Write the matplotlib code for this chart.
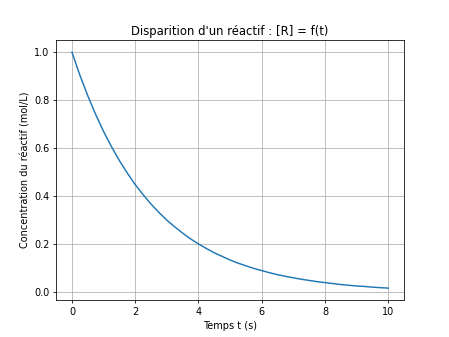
import matplotlib
matplotlib.use("Agg")
import matplotlib.pyplot as plt

temps = [0.0, 0.25, 0.5, 0.75, 1.0, 1.25, 1.5, 1.75, 2.0, 2.25, 2.5, 2.75, 3.0, 3.25,
         3.5, 3.75, 4.0, 4.25, 4.5, 4.75, 5.0, 5.25, 5.5, 5.75, 6.0, 6.25, 6.5, 6.75,
         7.0, 7.25, 7.5, 7.75, 8.0, 8.25, 8.5, 8.75, 9.0, 9.25, 9.5, 9.75, 10.0]
concentration = [1.000, 0.905, 0.819, 0.741, 0.670, 0.607, 0.549, 0.497, 0.449, 0.407,
                 0.368, 0.333, 0.301, 0.273, 0.247, 0.223, 0.202, 0.183, 0.165, 0.150,
                 0.135, 0.122, 0.111, 0.100, 0.091, 0.082, 0.074, 0.067, 0.061, 0.055,
                 0.050, 0.045, 0.041, 0.037, 0.033, 0.030, 0.027, 0.025, 0.022, 0.020,
                 0.018]

fig, ax = plt.subplots(figsize=(449/70, 337/70), dpi=70)
ax.plot(temps, concentration, color="#1f77b4")
ax.set_title("Disparition d'un réactif : [R] = f(t)")
ax.set_xlabel("Temps t (s)")
ax.set_ylabel("Concentration du réactif (mol/L)")
ax.grid(True)
fig.savefig("out.png", dpi=70)
